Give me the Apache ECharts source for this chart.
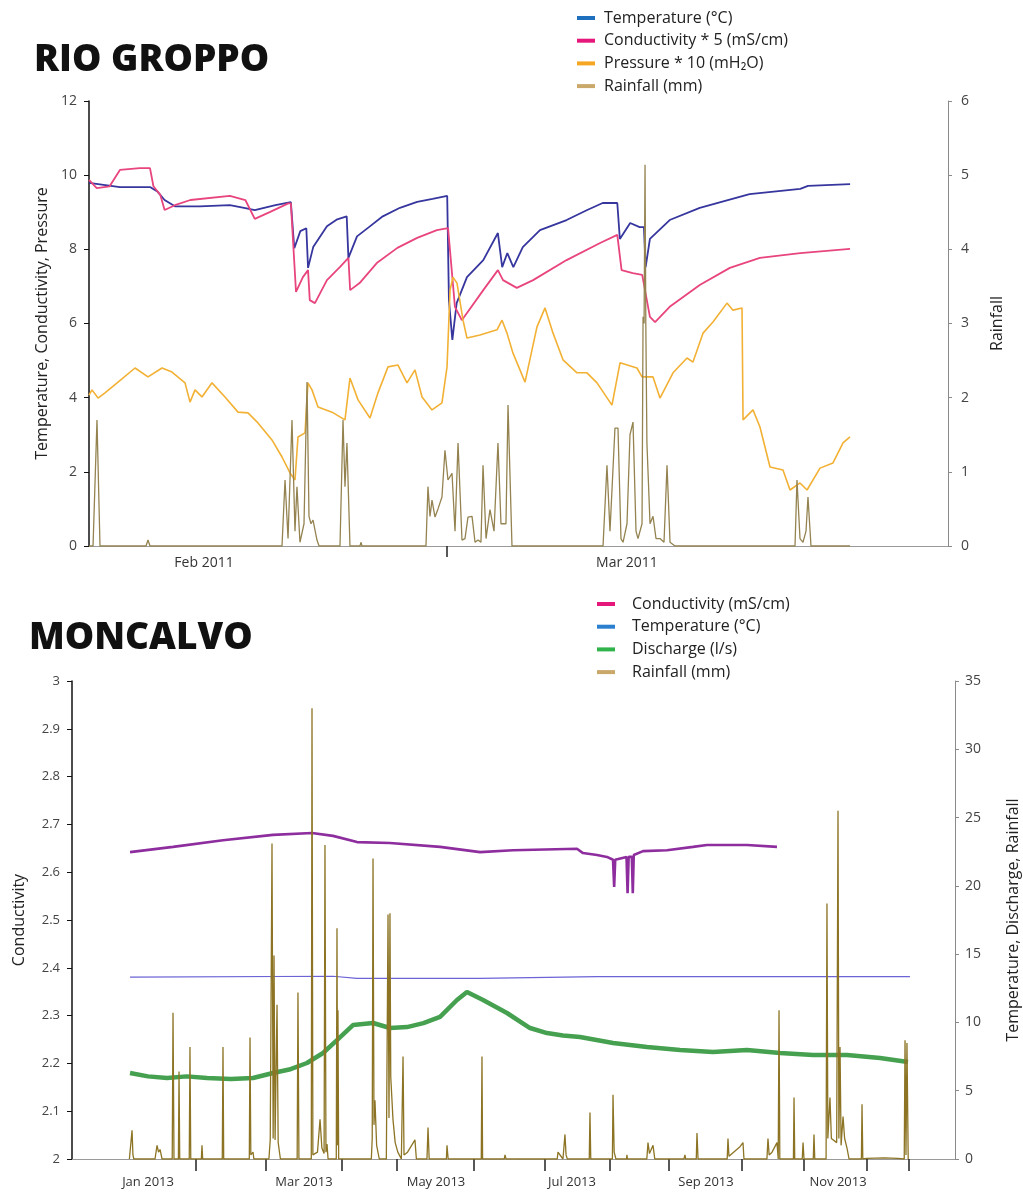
<!DOCTYPE html>
<html><head><meta charset="utf-8">
<script src="https://cdn.jsdelivr.net/npm/echarts@6/dist/echarts.min.js"></script>
<style>html,body{margin:0;padding:0;background:#fff}#c{width:1023px;height:1196px}</style>
</head><body><div id="c"></div><script>
// ---------- RIO GROPPO (time index 0..100 along the record) ----------
const rgXLabels = ['Feb 2011', 'Mar 2011'];
const rgXLabelPos = [13.39, 62.63];
const rgXTickPos = [41.68];
const rgTemperature = [[0,9.79],[3.6,9.68],[7.1,9.68],[8.0,9.55],[8.8,9.33],[10.0,9.16],[12.9,9.16],[16.4,9.19],[18.2,9.11],[19.3,9.06],[21.7,9.19],[23.5,9.27],[23.9,8.03],[24.6,8.49],[25.3,8.57],[25.5,7.50],[26.1,8.06],[27.7,8.62],[28.9,8.81],[30.0,8.89],[30.2,7.77],[31.2,8.35],[32.7,8.62],[34.2,8.89],[36.2,9.12],[38.2,9.28],[40.0,9.36],[41.7,9.44],[41.9,6.63],[42.3,5.56],[42.8,6.55],[44.0,7.25],[45.9,7.71],[47.6,8.44],[48.1,7.52],[48.7,7.90],[49.4,7.52],[50.5,8.06],[52.5,8.52],[55.6,8.79],[58.0,9.06],[59.8,9.25],[61.5,9.25],[61.8,8.28],[63.0,8.71],[64.1,8.60],[64.6,8.60],[64.8,7.52],[65.3,8.28],[67.6,8.79],[71.1,9.12],[76.9,9.49],[82.8,9.63],[83.7,9.71],[88.6,9.76]];
const rgConductivity5 = [[0,9.87],[0.9,9.65],[2.4,9.70],[3.6,10.14],[5.9,10.19],[7.1,10.19],[7.5,9.70],[8.3,9.47],[8.8,9.06],[10.0,9.19],[11.8,9.33],[16.4,9.44],[18.2,9.33],[19.3,8.82],[21.1,9.01],[23.2,9.24],[23.5,9.24],[24.1,6.85],[24.9,7.25],[25.5,7.44],[25.7,6.63],[26.3,6.55],[27.7,7.17],[29.2,7.52],[30.2,7.77],[30.4,6.90],[31.5,7.09],[33.5,7.63],[35.9,8.04],[38.2,8.31],[40.5,8.52],[41.8,8.57],[42.6,6.45],[43.4,6.09],[45.9,6.90],[47.6,7.44],[48.2,7.17],[49.8,6.96],[51.7,7.17],[55.6,7.71],[59.5,8.17],[61.5,8.39],[62.0,7.44],[63.3,7.36],[64.4,7.31],[65.3,6.18],[65.9,6.04],[67.6,6.45],[71.1,7.04],[74.6,7.50],[78.1,7.77],[82.8,7.90],[88.6,8.01]];
const rgPressure10 = [[0,4.07],[0.35,4.21],[1.05,3.99],[1.86,4.13],[3.38,4.42],[5.36,4.80],[6.87,4.56],[8.50,4.80],[9.66,4.69],[11.18,4.40],[11.76,3.88],[12.34,4.21],[13.15,4.02],[14.32,4.40],[15.83,4.02],[17.35,3.61],[18.51,3.59],[19.67,3.32],[21.30,2.86],[22.47,2.40],[23.40,1.97],[23.98,1.78],[24.33,2.94],[25.15,3.05],[25.49,4.40],[25.96,4.21],[26.66,3.75],[28.29,3.61],[29.80,3.40],[30.38,4.53],[31.32,3.94],[32.71,3.45],[33.64,4.13],[34.81,4.83],[35.97,4.88],[37.02,4.40],[37.95,4.75],[38.77,4.02],[39.93,3.67],[41.09,3.86],[41.68,4.83],[42.03,6.90],[42.37,7.25],[42.84,7.09],[43.54,6.09],[44.00,5.61],[45.52,5.69],[47.50,5.83],[48.08,6.09],[48.66,5.74],[49.36,5.20],[50.76,4.42],[52.15,5.91],[53.09,6.42],[54.02,5.74],[55.18,5.02],[56.81,4.67],[57.97,4.67],[59.14,4.40],[60.88,3.80],[61.82,4.94],[63.79,4.80],[64.38,4.56],[65.66,4.56],[66.47,3.99],[67.99,4.67],[69.62,5.07],[70.31,4.96],[71.48,5.74],[72.64,6.04],[74.27,6.55],[74.97,6.36],[76.02,6.42],[76.14,3.40],[77.30,3.67],[78.11,3.21],[79.28,2.13],[80.79,2.05],[81.61,1.51],[82.77,1.70],[83.59,1.51],[85.10,2.10],[86.61,2.24],[87.78,2.78],[88.59,2.94]];
const rgRainfall = [[0,0],[0.47,0],[0.93,1.70],[1.28,0],[6.64,0],[6.87,0.08],[7.10,0],[22.47,0],[22.82,0.89],[23.17,0.1],[23.63,1.70],[23.98,0.2],[24.21,0.80],[24.56,0.05],[25.03,0.3],[25.38,2.21],[25.61,0.4],[25.84,0.3],[26.08,0.35],[26.54,0.08],[26.78,0],[29.22,0],[29.57,1.70],[29.80,0.8],[30.03,1.39],[30.38,0],[31.55,0],[31.66,0.05],[31.78,0],[39.23,0],[39.46,0.80],[39.70,0.4],[39.93,0.62],[40.28,0.39],[40.63,0.5],[41.09,0.66],[41.44,1.29],[41.79,0.89],[42.26,0.98],[42.61,0.2],[42.96,1.39],[43.42,0.08],[43.77,0.1],[44.12,0.39],[44.59,0.4],[44.94,0.05],[45.29,0.08],[45.63,0.05],[45.87,1.09],[46.22,0.1],[46.68,0.49],[47.15,0.2],[47.61,1.39],[47.96,0.3],[48.20,0.3],[48.54,0.3],[48.78,1.90],[49.24,0],[59.84,0],[60.30,1.09],[60.65,0.2],[61.23,1.59],[61.58,1.59],[61.93,0.1],[62.17,0.05],[62.63,0.3],[62.98,1.5],[63.33,1.67],[63.68,0.2],[63.91,0.1],[64.38,0.3],[64.5,3.09],[64.62,3.0],[64.73,5.14],[64.82,3.0],[64.95,1.39],[65.31,0.3],[65.66,0.4],[66.01,0.1],[66.47,0.1],[66.94,0.05],[67.29,1.09],[67.64,0.05],[68.22,0],[82.19,0],[82.42,0.89],[82.77,0.1],[83.12,0.05],[83.47,0.2],[83.70,0.66],[84.05,0],[88.6,0]];

// ---------- MONCALVO (time index 0..100 along the record) ----------
const mcXLabels = ['Jan 2013', 'Mar 2013', 'May 2013', 'Jul 2013', 'Sep 2013', 'Nov 2013'];
const mcXLabelPos = [8.61, 26.27, 41.22, 56.63, 71.80, 86.75];
const mcXTickPos = [14.04, 21.97, 30.58, 36.81, 45.52, 53.57, 60.93, 67.61, 75.88, 82.90, 90.04, 94.79];
const mcConductivity = [[6.57,2.642],[11.44,2.653],[17.10,2.667],[22.76,2.678],[27.18,2.682],[29.56,2.676],[32.28,2.663],[36.01,2.661],[41.68,2.653],[46.21,2.642],[49.94,2.646],[57.19,2.649],[57.87,2.640],[59.46,2.636],[60.59,2.632],[61.27,2.626],[61.40,2.569],[61.52,2.626],[62.80,2.632],[62.92,2.556],[63.04,2.632],[63.40,2.632],[63.51,2.556],[63.62,2.636],[64.67,2.644],[67.38,2.646],[70.33,2.653],[71.91,2.657],[76.44,2.657],[79.84,2.653]];
const mcTemperature = [[6.57,13.32],[29.56,13.38],[32.28,13.22],[46.21,13.22],[59.5,13.35],[94.9,13.35]];
const mcDischarge = [[6.57,6.30],[8.6,6.05],[10.76,5.93],[13.0,6.05],[15.29,5.93],[18.0,5.85],[20.50,5.93],[22.76,6.30],[24.6,6.55],[26.61,7.03],[28.43,7.76],[30.01,8.71],[31.82,9.81],[34.09,9.96],[36.01,9.59],[37.94,9.66],[39.8,9.95],[41.68,10.40],[43.60,11.64],[44.73,12.23],[46.55,11.64],[49.26,10.69],[51.87,9.59],[53.79,9.22],[55.6,9.05],[57.53,8.93],[61.27,8.49],[65.12,8.20],[68.86,7.98],[72.59,7.83],[76.44,7.98],[80.18,7.76],[83.92,7.61],[87.77,7.61],[91.51,7.39],[94.68,7.10]];
const mcRainfall = [[6.5,0],[6.7,0],[6.8,2.1],[6.9,0.3],[7.0,0],[9.4,0],[9.63,1.0],[9.8,0.5],[9.97,0.7],[10.2,0],[11.35,0],[11.44,10.7],[11.55,0],[12.05,0],[12.12,6.4],[12.2,0],[13.28,0],[13.36,8.2],[13.45,0],[14.65,0],[14.72,1.0],[14.8,0],[17.02,0],[17.10,8.2],[17.18,0],[20.08,0],[20.16,8.9],[20.25,0.3],[20.50,0.5],[20.6,0],[22.3,0],[22.45,1.4],[22.65,23.1],[22.78,1.5],[22.88,14.9],[23.0,1.4],[23.22,11.3],[23.35,1.2],[23.6,0],[25.5,0],[25.59,12.2],[25.7,0],[27.1,0],[27.18,33.0],[27.28,0.3],[27.8,0.5],[28.09,2.9],[28.3,0.8],[28.55,0.4],[28.65,23.0],[28.76,0.5],[28.88,1.1],[29.0,0],[29.93,0],[30.01,16.9],[30.08,1.0],[30.12,10.9],[30.2,0],[33.9,0],[34.0,1.5],[34.09,22.0],[34.2,2.5],[34.31,4.3],[34.5,1.0],[34.8,0],[35.6,0],[35.79,17.9],[35.9,3.0],[36.01,18.0],[36.1,6.0],[36.24,6.0],[36.35,2.9],[36.6,1.2],[36.9,0.5],[37.3,0],[37.49,7.5],[37.6,0.3],[38.0,0.5],[38.84,1.4],[39.0,0],[40.2,0],[40.32,2.3],[40.45,0],[42.4,0],[42.47,1.0],[42.6,0],[46.35,0],[46.43,7.5],[46.5,0],[48.95,0],[49.04,0.3],[49.15,0],[54.95,0],[55.04,0.5],[55.6,0],[55.83,1.8],[55.95,0.3],[56.1,0],[58.58,0],[58.66,3.4],[58.75,0],[61.2,0],[61.27,4.7],[61.4,0.5],[61.6,0],[62.8,0],[62.85,0.3],[62.9,0],[65.1,0],[65.23,1.2],[65.4,0.4],[65.80,1.0],[66.0,0],[69.3,0],[69.42,0.3],[69.5,0],[70.7,0],[70.78,1.9],[70.9,0],[74.2,0],[74.29,1.5],[74.4,0.2],[75.65,0.9],[75.99,1.2],[76.1,0],[78.7,0],[78.82,1.5],[78.95,0.3],[79.28,0.5],[79.84,1.2],[79.98,0],[80.07,10.9],[80.16,0],[81.7,0],[81.77,4.5],[81.85,0],[82.7,0],[82.79,1.2],[82.9,0],[83.95,0],[84.03,1.8],[84.12,0],[85.4,0],[85.50,18.7],[85.6,1.5],[85.84,4.5],[86.0,1.5],[86.6,1.2],[86.75,25.5],[86.85,1.5],[86.98,8.2],[87.1,1.0],[87.32,3.1],[87.5,1.5],[87.77,0.8],[88.0,0],[89.4,0],[89.47,4.0],[89.56,0],[90.0,0.05],[92.0,0.08],[93.5,0.05],[94.25,0],[94.34,8.7],[94.45,0.3],[94.56,8.5],[94.7,0]];

const FONT = '"Open Sans", "Noto Sans", sans-serif';
function labelFrom(pos, names) {
  return function (v) {
    let best = -1, d = 1e9;
    pos.forEach((p, i) => { if (Math.abs(p - v) < d) { d = Math.abs(p - v); best = i; } });
    return d < 0.5 ? names[best] : '';
  };
}
const chart = echarts.init(document.getElementById('c'), null, {renderer: 'canvas'});
const axisText = {fontFamily: FONT, fontSize: 14, color: '#444'};
const nameText = {fontFamily: FONT, fontSize: 16, color: '#222'};
chart.setOption({
  animation: false,
  backgroundColor: '#fff',
  title: [
    {text: 'RIO GROPPO', left: 29, top: 37, textStyle: {fontFamily: FONT, fontWeight: 800, fontSize: 37, color: '#111'}},
    {text: 'MONCALVO', left: 24, top: 615, textStyle: {fontFamily: FONT, fontWeight: 800, fontSize: 37, color: '#111'}}
  ],
  legend: [
    {orient: 'vertical', left: 572, top: 5, icon: 'rect', itemWidth: 18, itemHeight: 4, itemGap: 6.7,
     textStyle: {fontFamily: FONT, fontSize: 16, color: '#222', lineHeight: 16, padding: [0, 0, 0, 4]},
     data: [
       {name: 'Temperature (°C)', itemStyle: {color: '#1f6fbf'}},
       {name: 'Conductivity * 5 (mS/cm)', itemStyle: {color: '#e5177a'}},
       {name: 'Pressure * 10 (mH₂O)', itemStyle: {color: '#f5a623'}},
       {name: 'Rainfall (mm)', itemStyle: {color: '#c9a86a'}}
     ]},
    {orient: 'vertical', left: 592, top: 591, icon: 'rect', itemWidth: 18, itemHeight: 4, itemGap: 6.7,
     textStyle: {fontFamily: FONT, fontSize: 16, color: '#222', lineHeight: 16, padding: [0, 0, 0, 12]},
     data: [
       {name: 'Conductivity (mS/cm)', itemStyle: {color: '#e5177a'}},
       {name: 'Temperature (°C) ', itemStyle: {color: '#2a7fcf'}},
       {name: 'Discharge (l/s)', itemStyle: {color: '#2fb34a'}},
       {name: 'Rainfall (mm) ', itemStyle: {color: '#c9a86a'}}
     ]}
  ],
  grid: [
    {left: 89, right: 75, top: 101, bottom: 650, containLabel: false, outerBoundsMode: 'none'},
    {left: 72, right: 68, top: 681, bottom: 37, containLabel: false, outerBoundsMode: 'none'}
  ],
  xAxis: [
    {gridIndex: 0, type: 'value', min: 0, max: 100,
     axisLine: {lineStyle: {color: '#9a9a9a', width: 1}},
     axisTick: {show: true, customValues: rgXTickPos, length: 11, lineStyle: {color: '#222', width: 1.5}},
     axisLabel: {customValues: rgXLabelPos, formatter: labelFrom(rgXLabelPos, rgXLabels), margin: 10, fontFamily: FONT, fontSize: 14, color: '#333'},
     splitLine: {show: false}},
    {gridIndex: 1, type: 'value', min: 0, max: 100,
     axisLine: {lineStyle: {color: '#9a9a9a', width: 1}},
     axisTick: {show: true, customValues: mcXTickPos, length: 12, lineStyle: {color: '#222', width: 1.5}},
     axisLabel: {customValues: mcXLabelPos, formatter: labelFrom(mcXLabelPos, mcXLabels), margin: 17, fontFamily: FONT, fontSize: 13, color: '#333'},
     splitLine: {show: false}}
  ],
  yAxis: [
    {gridIndex: 0, type: 'value', position: 'left', min: 0, max: 12, interval: 2,
     axisLine: {show: true, lineStyle: {color: '#111', width: 1.5}},
     axisTick: {show: true, length: 5, lineStyle: {color: '#111'}},
     axisLabel: Object.assign({margin: 12}, axisText), splitLine: {show: false},
     name: 'Temperature, Conductivity, Pressure', nameLocation: 'middle', nameRotate: 90, nameGap: 39, nameTextStyle: nameText},
    {gridIndex: 0, type: 'value', position: 'right', min: 0, max: 6, interval: 1,
     axisLine: {show: true, lineStyle: {color: '#8a8a8a', width: 1}},
     axisTick: {show: true, length: 4, lineStyle: {color: '#8a8a8a'}},
     axisLabel: Object.assign({margin: 13}, axisText), splitLine: {show: false},
     name: 'Rainfall', nameLocation: 'middle', nameRotate: 90, nameGap: 41, nameTextStyle: nameText},
    {gridIndex: 1, type: 'value', position: 'left', min: 2, max: 3, interval: 0.1,
     axisLine: {show: true, lineStyle: {color: '#111', width: 1.5}},
     axisTick: {show: true, length: 5, lineStyle: {color: '#111'}},
     axisLabel: Object.assign({margin: 12, formatter: v => String(Math.round(v * 10) / 10)}, axisText, {fontSize: 13}),
     splitLine: {show: false},
     name: 'Conductivity', nameLocation: 'middle', nameRotate: 90, nameGap: 45, nameTextStyle: nameText},
    {gridIndex: 1, type: 'value', position: 'right', min: 0, max: 35, interval: 5,
     axisLine: {show: true, lineStyle: {color: '#8a8a8a', width: 1}},
     axisTick: {show: true, length: 4, lineStyle: {color: '#8a8a8a'}},
     axisLabel: Object.assign({margin: 10}, axisText), splitLine: {show: false},
     name: 'Temperature, Discharge, Rainfall', nameLocation: 'middle', nameRotate: 90, nameGap: 50, nameTextStyle: nameText}
  ],
  series: [
    {name: 'Temperature (°C)', type: 'line', xAxisIndex: 0, yAxisIndex: 0, data: rgTemperature, showSymbol: false, lineStyle: {color: '#36369e', width: 1.8}, itemStyle: {color: '#36369e'}},
    {name: 'Conductivity * 5 (mS/cm)', type: 'line', xAxisIndex: 0, yAxisIndex: 0, data: rgConductivity5, showSymbol: false, lineStyle: {color: '#e8457e', width: 1.8}, itemStyle: {color: '#e8457e'}},
    {name: 'Pressure * 10 (mH₂O)', type: 'line', xAxisIndex: 0, yAxisIndex: 0, data: rgPressure10, showSymbol: false, lineStyle: {color: '#f2b134', width: 1.6}, itemStyle: {color: '#f2b134'}},
    {name: 'Rainfall (mm)', type: 'line', xAxisIndex: 0, yAxisIndex: 1, data: rgRainfall, showSymbol: false, lineStyle: {color: '#948350', width: 1.3}, itemStyle: {color: '#948350'}},
    {name: 'Conductivity (mS/cm)', type: 'line', xAxisIndex: 1, yAxisIndex: 2, data: mcConductivity, showSymbol: false, lineStyle: {color: '#8e2d9e', width: 2.6}, itemStyle: {color: '#8e2d9e'}},
    {name: 'Temperature (°C) ', type: 'line', xAxisIndex: 1, yAxisIndex: 3, data: mcTemperature, showSymbol: false, lineStyle: {color: '#6b63d6', width: 1.2}, itemStyle: {color: '#6b63d6'}},
    {name: 'Discharge (l/s)', type: 'line', xAxisIndex: 1, yAxisIndex: 3, data: mcDischarge, showSymbol: false, lineStyle: {color: '#45a04f', width: 4.5}, itemStyle: {color: '#45a04f'}},
    {name: 'Rainfall (mm) ', type: 'line', xAxisIndex: 1, yAxisIndex: 3, data: mcRainfall, showSymbol: false, lineStyle: {color: '#8c7424', width: 1.3}, itemStyle: {color: '#8c7424'}}
  ]
});
</script></body></html>
